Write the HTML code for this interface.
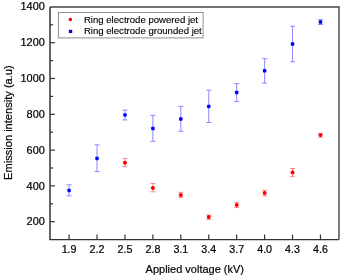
<!DOCTYPE html>
<html><head><meta charset="utf-8"><style>
html,body{margin:0;padding:0;background:#fff;}
svg{display:block;will-change:transform;}
text{font-family:"Liberation Sans",sans-serif;fill:#000;stroke:#000;stroke-width:0.3px;}
.t{font-size:10.5px;stroke-width:0.22px;}
.lg{font-size:9.6px;stroke-width:0.12px;}
.ax{font-size:11px;stroke-width:0.2px;}
</style></head><body>
<svg width="342" height="277" viewBox="0 0 342 277">
<path d="M50.0,7.0H339.0V239.6" fill="none" stroke="#444" stroke-width="1.4"/>
<path d="M50.0,7.0V239.6" fill="none" stroke="#333" stroke-width="1.5"/>
<path d="M49.25,239.6H339.0" fill="none" stroke="#333" stroke-width="1.25"/>
<line x1="50.0" y1="221.70" x2="55.0" y2="221.70" stroke="#333" stroke-width="1.2"/>
<text transform="translate(44.8,225.30) scale(1.04,1)" text-anchor="end" class="t">200</text>
<line x1="50.0" y1="203.80" x2="53.0" y2="203.80" stroke="#333" stroke-width="1.2"/>
<line x1="50.0" y1="185.90" x2="55.0" y2="185.90" stroke="#333" stroke-width="1.2"/>
<text transform="translate(44.8,189.50) scale(1.04,1)" text-anchor="end" class="t">400</text>
<line x1="50.0" y1="168.00" x2="53.0" y2="168.00" stroke="#333" stroke-width="1.2"/>
<line x1="50.0" y1="150.10" x2="55.0" y2="150.10" stroke="#333" stroke-width="1.2"/>
<text transform="translate(44.8,153.70) scale(1.04,1)" text-anchor="end" class="t">600</text>
<line x1="50.0" y1="132.20" x2="53.0" y2="132.20" stroke="#333" stroke-width="1.2"/>
<line x1="50.0" y1="114.30" x2="55.0" y2="114.30" stroke="#333" stroke-width="1.2"/>
<text transform="translate(44.8,117.90) scale(1.04,1)" text-anchor="end" class="t">800</text>
<line x1="50.0" y1="96.40" x2="53.0" y2="96.40" stroke="#333" stroke-width="1.2"/>
<line x1="50.0" y1="78.50" x2="55.0" y2="78.50" stroke="#333" stroke-width="1.2"/>
<text transform="translate(44.8,82.10) scale(1.04,1)" text-anchor="end" class="t">1000</text>
<line x1="50.0" y1="60.60" x2="53.0" y2="60.60" stroke="#333" stroke-width="1.2"/>
<line x1="50.0" y1="42.70" x2="55.0" y2="42.70" stroke="#333" stroke-width="1.2"/>
<text transform="translate(44.8,46.30) scale(1.04,1)" text-anchor="end" class="t">1200</text>
<line x1="50.0" y1="24.80" x2="53.0" y2="24.80" stroke="#333" stroke-width="1.2"/>
<text transform="translate(44.8,9.80) scale(1.04,1)" text-anchor="end" class="t">1400</text>
<line x1="69.10" y1="239.6" x2="69.10" y2="234.6" stroke="#333" stroke-width="1.2"/>
<text transform="translate(69.10,253.45) scale(1.02,1)" text-anchor="middle" class="t">1.9</text>
<line x1="97.03" y1="239.6" x2="97.03" y2="234.6" stroke="#333" stroke-width="1.2"/>
<text transform="translate(97.03,253.45) scale(1.02,1)" text-anchor="middle" class="t">2.2</text>
<line x1="124.96" y1="239.6" x2="124.96" y2="234.6" stroke="#333" stroke-width="1.2"/>
<text transform="translate(124.96,253.45) scale(1.02,1)" text-anchor="middle" class="t">2.5</text>
<line x1="152.89" y1="239.6" x2="152.89" y2="234.6" stroke="#333" stroke-width="1.2"/>
<text transform="translate(152.89,253.45) scale(1.02,1)" text-anchor="middle" class="t">2.8</text>
<line x1="180.82" y1="239.6" x2="180.82" y2="234.6" stroke="#333" stroke-width="1.2"/>
<text transform="translate(180.82,253.45) scale(1.02,1)" text-anchor="middle" class="t">3.1</text>
<line x1="208.75" y1="239.6" x2="208.75" y2="234.6" stroke="#333" stroke-width="1.2"/>
<text transform="translate(208.75,253.45) scale(1.02,1)" text-anchor="middle" class="t">3.4</text>
<line x1="236.68" y1="239.6" x2="236.68" y2="234.6" stroke="#333" stroke-width="1.2"/>
<text transform="translate(236.68,253.45) scale(1.02,1)" text-anchor="middle" class="t">3.7</text>
<line x1="264.61" y1="239.6" x2="264.61" y2="234.6" stroke="#333" stroke-width="1.2"/>
<text transform="translate(264.61,253.45) scale(1.02,1)" text-anchor="middle" class="t">4.0</text>
<line x1="292.54" y1="239.6" x2="292.54" y2="234.6" stroke="#333" stroke-width="1.2"/>
<text transform="translate(292.54,253.45) scale(1.02,1)" text-anchor="middle" class="t">4.3</text>
<line x1="320.47" y1="239.6" x2="320.47" y2="234.6" stroke="#333" stroke-width="1.2"/>
<text transform="translate(320.47,253.45) scale(1.02,1)" text-anchor="middle" class="t">4.6</text>
<line x1="69.10" y1="184.8" x2="69.10" y2="195.8" stroke="#8a8aff" stroke-width="1"/><line x1="66.60" y1="184.8" x2="71.60" y2="184.8" stroke="#8a8aff" stroke-width="1"/><line x1="66.60" y1="195.8" x2="71.60" y2="195.8" stroke="#8a8aff" stroke-width="1"/>
<line x1="97.03" y1="144.8" x2="97.03" y2="171.6" stroke="#8a8aff" stroke-width="1"/><line x1="94.53" y1="144.8" x2="99.53" y2="144.8" stroke="#8a8aff" stroke-width="1"/><line x1="94.53" y1="171.6" x2="99.53" y2="171.6" stroke="#8a8aff" stroke-width="1"/>
<line x1="124.96" y1="110.1" x2="124.96" y2="119.9" stroke="#8a8aff" stroke-width="1"/><line x1="122.46" y1="110.1" x2="127.46" y2="110.1" stroke="#8a8aff" stroke-width="1"/><line x1="122.46" y1="119.9" x2="127.46" y2="119.9" stroke="#8a8aff" stroke-width="1"/>
<line x1="152.89" y1="115.4" x2="152.89" y2="141.3" stroke="#8a8aff" stroke-width="1"/><line x1="150.39" y1="115.4" x2="155.39" y2="115.4" stroke="#8a8aff" stroke-width="1"/><line x1="150.39" y1="141.3" x2="155.39" y2="141.3" stroke="#8a8aff" stroke-width="1"/>
<line x1="180.82" y1="106.4" x2="180.82" y2="131.3" stroke="#8a8aff" stroke-width="1"/><line x1="178.32" y1="106.4" x2="183.32" y2="106.4" stroke="#8a8aff" stroke-width="1"/><line x1="178.32" y1="131.3" x2="183.32" y2="131.3" stroke="#8a8aff" stroke-width="1"/>
<line x1="208.75" y1="90.2" x2="208.75" y2="122.5" stroke="#8a8aff" stroke-width="1"/><line x1="206.25" y1="90.2" x2="211.25" y2="90.2" stroke="#8a8aff" stroke-width="1"/><line x1="206.25" y1="122.5" x2="211.25" y2="122.5" stroke="#8a8aff" stroke-width="1"/>
<line x1="236.68" y1="83.6" x2="236.68" y2="101.5" stroke="#8a8aff" stroke-width="1"/><line x1="234.18" y1="83.6" x2="239.18" y2="83.6" stroke="#8a8aff" stroke-width="1"/><line x1="234.18" y1="101.5" x2="239.18" y2="101.5" stroke="#8a8aff" stroke-width="1"/>
<line x1="264.61" y1="58.7" x2="264.61" y2="83.1" stroke="#8a8aff" stroke-width="1"/><line x1="262.11" y1="58.7" x2="267.11" y2="58.7" stroke="#8a8aff" stroke-width="1"/><line x1="262.11" y1="83.1" x2="267.11" y2="83.1" stroke="#8a8aff" stroke-width="1"/>
<line x1="292.54" y1="26.2" x2="292.54" y2="61.8" stroke="#8a8aff" stroke-width="1"/><line x1="290.04" y1="26.2" x2="295.04" y2="26.2" stroke="#8a8aff" stroke-width="1"/><line x1="290.04" y1="61.8" x2="295.04" y2="61.8" stroke="#8a8aff" stroke-width="1"/>
<line x1="320.47" y1="19.7" x2="320.47" y2="24.5" stroke="#8a8aff" stroke-width="1"/><line x1="317.97" y1="19.7" x2="322.97" y2="19.7" stroke="#8a8aff" stroke-width="1"/><line x1="317.97" y1="24.5" x2="322.97" y2="24.5" stroke="#8a8aff" stroke-width="1"/>
<line x1="124.96" y1="158.5" x2="124.96" y2="166.6" stroke="#ff8a8a" stroke-width="1"/><line x1="122.46" y1="158.5" x2="127.46" y2="158.5" stroke="#ff8a8a" stroke-width="1"/><line x1="122.46" y1="166.6" x2="127.46" y2="166.6" stroke="#ff8a8a" stroke-width="1"/>
<line x1="152.89" y1="183.5" x2="152.89" y2="191.8" stroke="#ff8a8a" stroke-width="1"/><line x1="150.39" y1="183.5" x2="155.39" y2="183.5" stroke="#ff8a8a" stroke-width="1"/><line x1="150.39" y1="191.8" x2="155.39" y2="191.8" stroke="#ff8a8a" stroke-width="1"/>
<line x1="180.82" y1="192.3" x2="180.82" y2="197.6" stroke="#ff8a8a" stroke-width="1"/><line x1="178.32" y1="192.3" x2="183.32" y2="192.3" stroke="#ff8a8a" stroke-width="1"/><line x1="178.32" y1="197.6" x2="183.32" y2="197.6" stroke="#ff8a8a" stroke-width="1"/>
<line x1="208.75" y1="215.0" x2="208.75" y2="219.5" stroke="#ff8a8a" stroke-width="1"/><line x1="206.25" y1="215.0" x2="211.25" y2="215.0" stroke="#ff8a8a" stroke-width="1"/><line x1="206.25" y1="219.5" x2="211.25" y2="219.5" stroke="#ff8a8a" stroke-width="1"/>
<line x1="236.68" y1="202.3" x2="236.68" y2="207.6" stroke="#ff8a8a" stroke-width="1"/><line x1="234.18" y1="202.3" x2="239.18" y2="202.3" stroke="#ff8a8a" stroke-width="1"/><line x1="234.18" y1="207.6" x2="239.18" y2="207.6" stroke="#ff8a8a" stroke-width="1"/>
<line x1="264.61" y1="190.3" x2="264.61" y2="196.0" stroke="#ff8a8a" stroke-width="1"/><line x1="262.11" y1="190.3" x2="267.11" y2="190.3" stroke="#ff8a8a" stroke-width="1"/><line x1="262.11" y1="196.0" x2="267.11" y2="196.0" stroke="#ff8a8a" stroke-width="1"/>
<line x1="292.54" y1="168.5" x2="292.54" y2="176.7" stroke="#ff8a8a" stroke-width="1"/><line x1="290.04" y1="168.5" x2="295.04" y2="168.5" stroke="#ff8a8a" stroke-width="1"/><line x1="290.04" y1="176.7" x2="295.04" y2="176.7" stroke="#ff8a8a" stroke-width="1"/>
<line x1="320.47" y1="133.7" x2="320.47" y2="137.2" stroke="#ff8a8a" stroke-width="1"/><line x1="317.97" y1="133.7" x2="322.97" y2="133.7" stroke="#ff8a8a" stroke-width="1"/><line x1="317.97" y1="137.2" x2="322.97" y2="137.2" stroke="#ff8a8a" stroke-width="1"/>
<rect x="67.35" y="188.65" width="3.5" height="3.5" rx="0.8" fill="#0000ff"/>
<rect x="95.28" y="156.65" width="3.5" height="3.5" rx="0.8" fill="#0000ff"/>
<rect x="123.21" y="113.15" width="3.5" height="3.5" rx="0.8" fill="#0000ff"/>
<rect x="151.14" y="126.85" width="3.5" height="3.5" rx="0.8" fill="#0000ff"/>
<rect x="179.07" y="117.25" width="3.5" height="3.5" rx="0.8" fill="#0000ff"/>
<rect x="207.00" y="104.65" width="3.5" height="3.5" rx="0.8" fill="#0000ff"/>
<rect x="234.93" y="90.75" width="3.5" height="3.5" rx="0.8" fill="#0000ff"/>
<rect x="262.86" y="69.05" width="3.5" height="3.5" rx="0.8" fill="#0000ff"/>
<rect x="290.79" y="42.25" width="3.5" height="3.5" rx="0.8" fill="#0000ff"/>
<rect x="318.72" y="20.35" width="3.5" height="3.5" rx="0.8" fill="#0000ff"/>
<circle cx="124.96" cy="162.8" r="2" fill="#ff0000"/>
<circle cx="152.89" cy="187.9" r="2" fill="#ff0000"/>
<circle cx="180.82" cy="195.0" r="2" fill="#ff0000"/>
<circle cx="208.75" cy="216.9" r="2" fill="#ff0000"/>
<circle cx="236.68" cy="204.9" r="2" fill="#ff0000"/>
<circle cx="264.61" cy="193.1" r="2" fill="#ff0000"/>
<circle cx="292.54" cy="172.6" r="2" fill="#ff0000"/>
<circle cx="320.47" cy="135.1" r="2" fill="#ff0000"/>
<rect x="58.4" y="12.5" width="144.7" height="25.4" fill="#fff" stroke="#909090" stroke-width="1"/>
<circle cx="70.4" cy="19.4" r="1.75" fill="#ff0000"/>
<rect x="68.9" y="29.8" width="3.3" height="3.3" fill="#0000ff"/>
<text x="83.9" y="22.7" class="lg">Ring electrode powered jet</text>
<text x="83.9" y="34.4" class="lg">Ring electrode grounded jet</text>
<text x="194.8" y="272.5" text-anchor="middle" class="ax">Applied voltage (kV)</text>
<text transform="translate(11.6,122.6) rotate(-90)" text-anchor="middle" class="ax" style="font-size:11.1px">Emission intensity (a.u)</text>
</svg>
</body></html>
